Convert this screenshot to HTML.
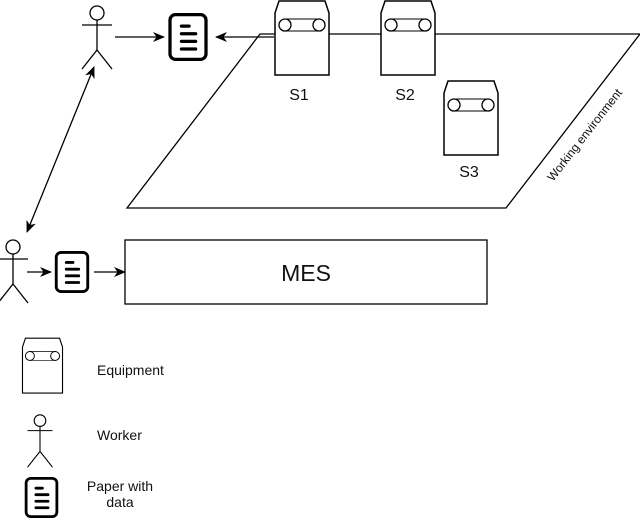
<!DOCTYPE html>
<html><head><style>body{margin:0;background:#fff}svg{display:block}text{font-family:"Liberation Sans",sans-serif;fill:#111}</style></head><body>
<svg width="640" height="518" viewBox="0 0 640 518">
<defs>
<marker id="a" markerWidth="14" markerHeight="14" refX="11" refY="6" orient="auto" markerUnits="userSpaceOnUse"><path d="M0,1 L12,6 L0,11 L3.5,6 Z" fill="#000"/></marker>
<marker id="b" markerWidth="14" markerHeight="14" refX="1" refY="6" orient="auto" markerUnits="userSpaceOnUse"><path d="M12,1 L0,6 L12,11 L8.5,6 Z" fill="#000"/></marker>
<g id="eq"><path d="M2,13 L6,1 L52,1 L56,13 L56,75 L2,75 Z" fill="#fff" stroke="#000" stroke-width="1.5"/><line x1="11" y1="19" x2="47" y2="19" stroke="#000"/><line x1="11" y1="31" x2="47" y2="31" stroke="#000"/><circle cx="12" cy="25" r="6" fill="#fff" stroke="#000" stroke-width="1.3"/><circle cx="46" cy="25" r="6" fill="#fff" stroke="#000" stroke-width="1.3"/></g>
<g id="wk" fill="none" stroke="#000" stroke-width="1.3"><circle cx="0" cy="0" r="7"/><line x1="0" y1="7" x2="0" y2="37"/><line x1="-15" y1="12" x2="15" y2="12"/><line x1="0" y1="37" x2="-15" y2="56"/><line x1="0" y1="37" x2="15" y2="56"/></g>
<g id="doc"><rect x="1.5" y="1.5" width="33" height="41" rx="5" fill="#fff" stroke="#000" stroke-width="3"/><g stroke="#000" stroke-width="3" stroke-linecap="round"><line x1="12" y1="12" x2="19" y2="12"/><line x1="12" y1="19" x2="25" y2="19"/><line x1="12" y1="26" x2="25" y2="26"/><line x1="12" y1="33" x2="25" y2="33"/></g></g>
</defs>
<path d="M260,34 L640,34 L506,208 L127,208 Z" fill="none" stroke="#000" stroke-width="1.3"/>
<text transform="translate(553,182) rotate(-52)" font-size="12">Working environment</text>
<use href="#eq" x="273" y="0"/><use href="#eq" x="379" y="0"/><use href="#eq" x="442" y="80"/>
<text x="299" y="100" font-size="16" text-anchor="middle">S1</text>
<text x="405" y="100" font-size="16" text-anchor="middle">S2</text>
<text x="469" y="177" font-size="16" text-anchor="middle">S3</text>
<use href="#wk" x="97" y="13"/>
<line x1="115" y1="37" x2="164" y2="37" stroke="#000" stroke-width="1.3" marker-end="url(#a)"/>
<svg x="167" y="13" width="42" height="48" viewBox="0 0 36 44"><use href="#doc"/></svg>
<line x1="274" y1="37" x2="216" y2="37" stroke="#000" stroke-width="1.3" marker-end="url(#a)"/>
<line x1="94" y1="67" x2="27" y2="232" stroke="#000" stroke-width="1.3" marker-end="url(#a)" marker-start="url(#b)"/>
<use href="#wk" x="13" y="247"/>
<line x1="27" y1="272" x2="51" y2="272" stroke="#000" stroke-width="1.3" marker-end="url(#a)"/>
<svg x="54" y="251" width="36" height="42" viewBox="0 0 36 44"><use href="#doc"/></svg>
<line x1="94" y1="272" x2="125" y2="272" stroke="#000" stroke-width="1.3" marker-end="url(#a)"/>
<rect x="125" y="240" width="362" height="64" fill="#fff" stroke="#000" stroke-width="1.3"/>
<text x="306" y="281" font-size="23" text-anchor="middle">MES</text>
<svg x="21" y="337" width="43" height="58" viewBox="0 0 58 77"><use href="#eq"/></svg>
<text x="97" y="375" font-size="14">Equipment</text>
<svg x="24" y="414" width="32" height="54" viewBox="-16 -8 32 65"><use href="#wk"/></svg>
<text x="97" y="440" font-size="14">Worker</text>
<svg x="24" y="477" width="35" height="41" viewBox="0 0 36 44"><use href="#doc"/></svg>
<text x="120" y="491" font-size="14" text-anchor="middle">Paper with</text>
<text x="120" y="507" font-size="14" text-anchor="middle">data</text>
</svg>
</body></html>
